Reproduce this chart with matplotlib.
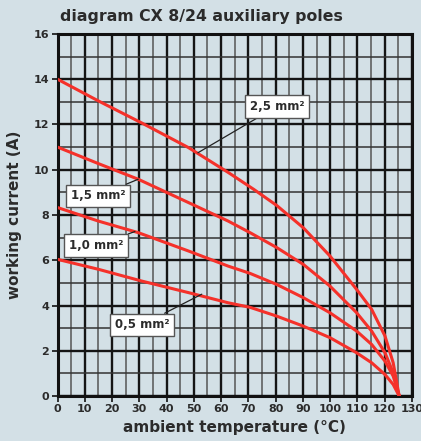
import matplotlib
matplotlib.use('Agg')
from matplotlib import pyplot as plt
from matplotlib.ticker import MultipleLocator

# values
temp_25 = [0, 15, 31, 48, 62.6, 72, 80.4, 90.1, 99.9, 109.7, 115.2, 120.1, 123.1, 125.3]
curr_25 = [14.0, 13.04, 12.06, 10.98, 9.88, 9.13, 8.42, 7.44, 6.19, 4.71, 3.83, 2.65, 1.47, 0]

temp_15 = [0, 15, 29.6, 48, 62.6, 70.6, 80.4, 90.1, 99.9, 109.7, 115.2, 120.1, 123.1, 125.3]
curr_15 = [11.0, 10.27, 9.58, 8.55, 7.73, 7.22, 6.56, 5.82, 4.86, 3.68, 2.87, 1.91, 1.03, 0]

temp_10 = [0, 15, 29.6, 48, 62.6, 70.6, 80.4, 90.1, 99.9, 109.7, 115.2, 120.1, 123.1, 125.3]
curr_10 = [8.33, 7.73, 7.22, 6.41, 5.74, 5.42, 4.93, 4.35, 3.68, 2.87, 2.28, 1.54, 0.88, 0]

temp_05 = [0, 15, 30.9, 48, 62.6, 70.6, 80.4, 90.1, 99.9, 109.7, 115.2, 120.1, 123.1, 125.3]
curr_05 = [6.04, 5.6, 5.08, 4.57, 4.12, 3.92, 3.53, 3.09, 2.58, 1.91, 1.47, 0.95, 0.51, 0]

labels = ['2,5 mm²', '1,5 mm²', '1,0 mm²', '0,5 mm²']
label_points = [(51.5, 10.75), (29.6, 9.58), (28.4, 7.27), (52.9, 4.5)]
label_boxes = [(80.5, 12.8), (14.8, 8.84), (14.1, 6.65), (30.9, 3.14)]

bg = '#d3e0e6'
red = '#f5312a'
ink = '#2b2b2b'

fig = plt.figure(figsize=(4.21, 4.41), dpi=100, facecolor=bg)
ax = fig.add_axes([0.1366, 0.102, 0.842, 0.821], facecolor=bg)

for t, c in [(temp_25, curr_25), (temp_15, curr_15),
             (temp_10, curr_10), (temp_05, curr_05)]:
    ax.plot(t, c, color=red, linewidth=2.2, zorder=3,
            solid_joinstyle='round', solid_capstyle='round')

ax.set_xlim(0, 130)
ax.set_ylim(0, 16)
ax.xaxis.set_major_locator(MultipleLocator(10))
ax.xaxis.set_minor_locator(MultipleLocator(5))
ax.yaxis.set_major_locator(MultipleLocator(2))
ax.yaxis.set_minor_locator(MultipleLocator(1))
ax.grid(which='major', color='#151515', linewidth=1.7)
ax.yaxis.grid(which='minor', color='#333333', linewidth=1.1)
ax.xaxis.grid(which='minor', color='#555555', linewidth=1.1)
ax.set_axisbelow(True)

for s in ax.spines.values():
    s.set_linewidth(2.2)
    s.set_color('#111111')

ax.tick_params(which='major', direction='out', length=4, width=1.2,
               labelsize=8, colors='#111111', labelcolor=ink, pad=2)
ax.tick_params(which='minor', length=0)
for lab in ax.get_xticklabels() + ax.get_yticklabels():
    lab.set_fontweight('bold')

for text, pt, box in zip(labels, label_points, label_boxes):
    ax.annotate(text, xy=pt, xytext=box, fontsize=8.5, fontweight='bold',
                color=ink, zorder=5, ha='center', va='center',
                bbox=dict(boxstyle='square,pad=0.4', facecolor='white',
                          edgecolor='#555555', linewidth=1),
                arrowprops=dict(arrowstyle='-', color='#222222',
                                linewidth=0.9, shrinkA=0, shrinkB=0))

ax.set_xlabel('ambient temperature (°C)', fontsize=11, fontweight='bold',
              color=ink, labelpad=4)
ax.set_ylabel('working current (A)', fontsize=11, fontweight='bold',
              color=ink, labelpad=8)
fig.text(0.142, 0.962, 'diagram CX 8/24 auxiliary poles', fontsize=11.3,
         fontweight='bold', color=ink, va='center')

fig.savefig('out.png', dpi=100, facecolor=bg)
